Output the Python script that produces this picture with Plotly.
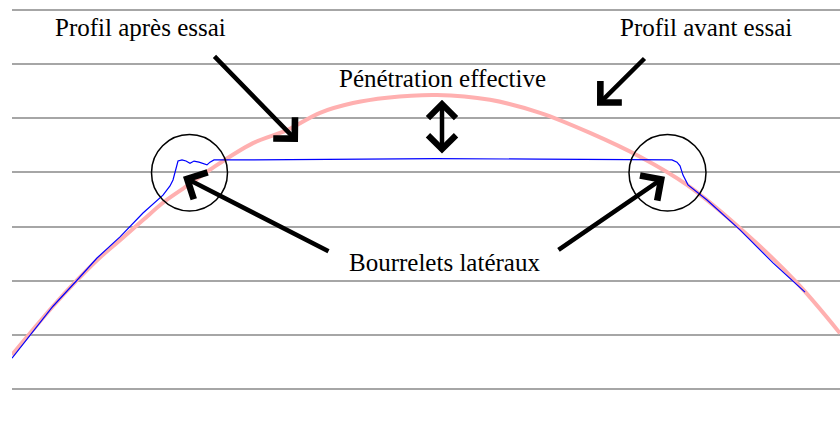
import plotly.graph_objects as go

# Profil avant essai (pink) - position across the sample (mm) and height
x_avant = [0, 1.8, 4.1, 6.5, 8.5, 10.8, 13.1, 15.1, 17.5, 19.8, 24.1, 27.5, 30.8,
           34.1, 37.5, 42.5, 47.8, 52.8, 57.8, 62.8, 67.5, 72.8, 78.5, 82.8]
y_avant = [0.63, 1.03, 1.53, 2.01, 2.38, 2.75, 3.12, 3.44, 3.75, 4.05, 4.54, 4.78, 5.10,
           5.28, 5.38, 5.43, 5.34, 5.10, 4.73, 4.29, 3.77, 2.97, 1.96, 1.03]

# Profil après essai (blue)
x_apres = [0, 1.8, 4.1, 6.5, 8.5, 10.8, 13.1, 15.1, 15.8, 16.1, 16.4, 16.6, 17.0, 17.4,
           17.8, 18.2, 18.7, 19.1, 19.5, 19.8, 20.2, 23.8, 31.8, 42.5, 52.8, 62.8, 66.0,
           66.5, 66.8, 67.1, 67.6, 69.5, 72.8, 76.1, 79.3]
y_apres = [0.57, 1.00, 1.53, 2.01, 2.42, 2.81, 3.25, 3.58, 3.75, 3.86, 4.08, 4.21, 4.23,
           4.21, 4.17, 4.21, 4.19, 4.17, 4.14, 4.19, 4.23, 4.23, 4.245, 4.255, 4.245, 4.23,
           4.23, 4.19, 4.12, 3.95, 3.77, 3.49, 2.94, 2.33, 1.79]

FONT = "Liberation Serif, Times New Roman, serif"

fig = go.Figure()
fig.add_trace(go.Scatter(x=x_avant, y=y_avant, mode="lines", name="Profil avant essai",
                         line=dict(color="#ffb0b0", width=4, shape="spline")))
fig.add_trace(go.Scatter(x=x_apres, y=y_apres, mode="lines", name="Profil après essai",
                         line=dict(color="#0000ff", width=1.2)))

# --- labels ---
labels = [
    ("Profil après essai", 12.8, 6.68),
    ("Profil avant essai", 69.4, 6.68),
    ("Pénétration effective", 43.0, 5.73),
    ("Bourrelets latéraux", 43.2, 2.33),
]
for txt, x, y in labels:
    fig.add_annotation(x=x, y=y, text=txt, showarrow=False,
                       xanchor="center", yanchor="middle",
                       font=dict(family=FONT, size=25, color="black"))

# --- arrows: (tip x, tip y, tail x, tail y) ---
arrows = [
    (28.6, 4.56, 20.1, 6.17),
    (58.5, 5.23, 63.4, 6.13),
    (17.1, 3.92, 31.8, 2.53),
    (65.3, 3.92, 54.5, 2.55),
]
for x, y, ax, ay in arrows:
    fig.add_annotation(x=x, y=y, ax=ax, ay=ay, xref="x", yref="y", axref="x", ayref="y",
                       text="", showarrow=True, arrowhead=4, arrowsize=1.3,
                       arrowwidth=4.5, arrowcolor="black")

# double arrow for the penetration depth
fig.add_annotation(x=43.0, y=5.34, ax=43.0, ay=4.32, xref="x", yref="y", axref="x", ayref="y",
                   text="", showarrow=True, arrowhead=4, startarrowhead=4, arrowside="end+start",
                   arrowsize=1.2, startarrowsize=1.2, arrowwidth=4.5, arrowcolor="black")

# circles around the lateral beads
for x0, x1 in [(13.95, 21.55), (61.7, 69.4)]:
    fig.add_shape(type="circle", xref="x", yref="y", x0=x0, x1=x1, y0=3.29, y1=4.70,
                  line=dict(color="black", width=1.5))

fig.update_layout(
    width=840, height=441,
    margin=dict(l=12, r=0, t=8, b=50),
    paper_bgcolor="white", plot_bgcolor="white",
    showlegend=False,
    xaxis=dict(range=[0, 82.8], showgrid=False, zeroline=False, showticklabels=False,
               ticks="", showline=False),
    yaxis=dict(range=[-0.035, 7.035], tick0=0, dtick=1, showgrid=True, gridcolor="#a6a6a6",
               gridwidth=1.5, zeroline=False, showticklabels=False, ticks="", showline=False),
)

# drop the default page margin so the figure fills the window
fig.write_html("out.html", config={"displayModeBar": False},
               post_script="document.body.style.margin = '0';")
